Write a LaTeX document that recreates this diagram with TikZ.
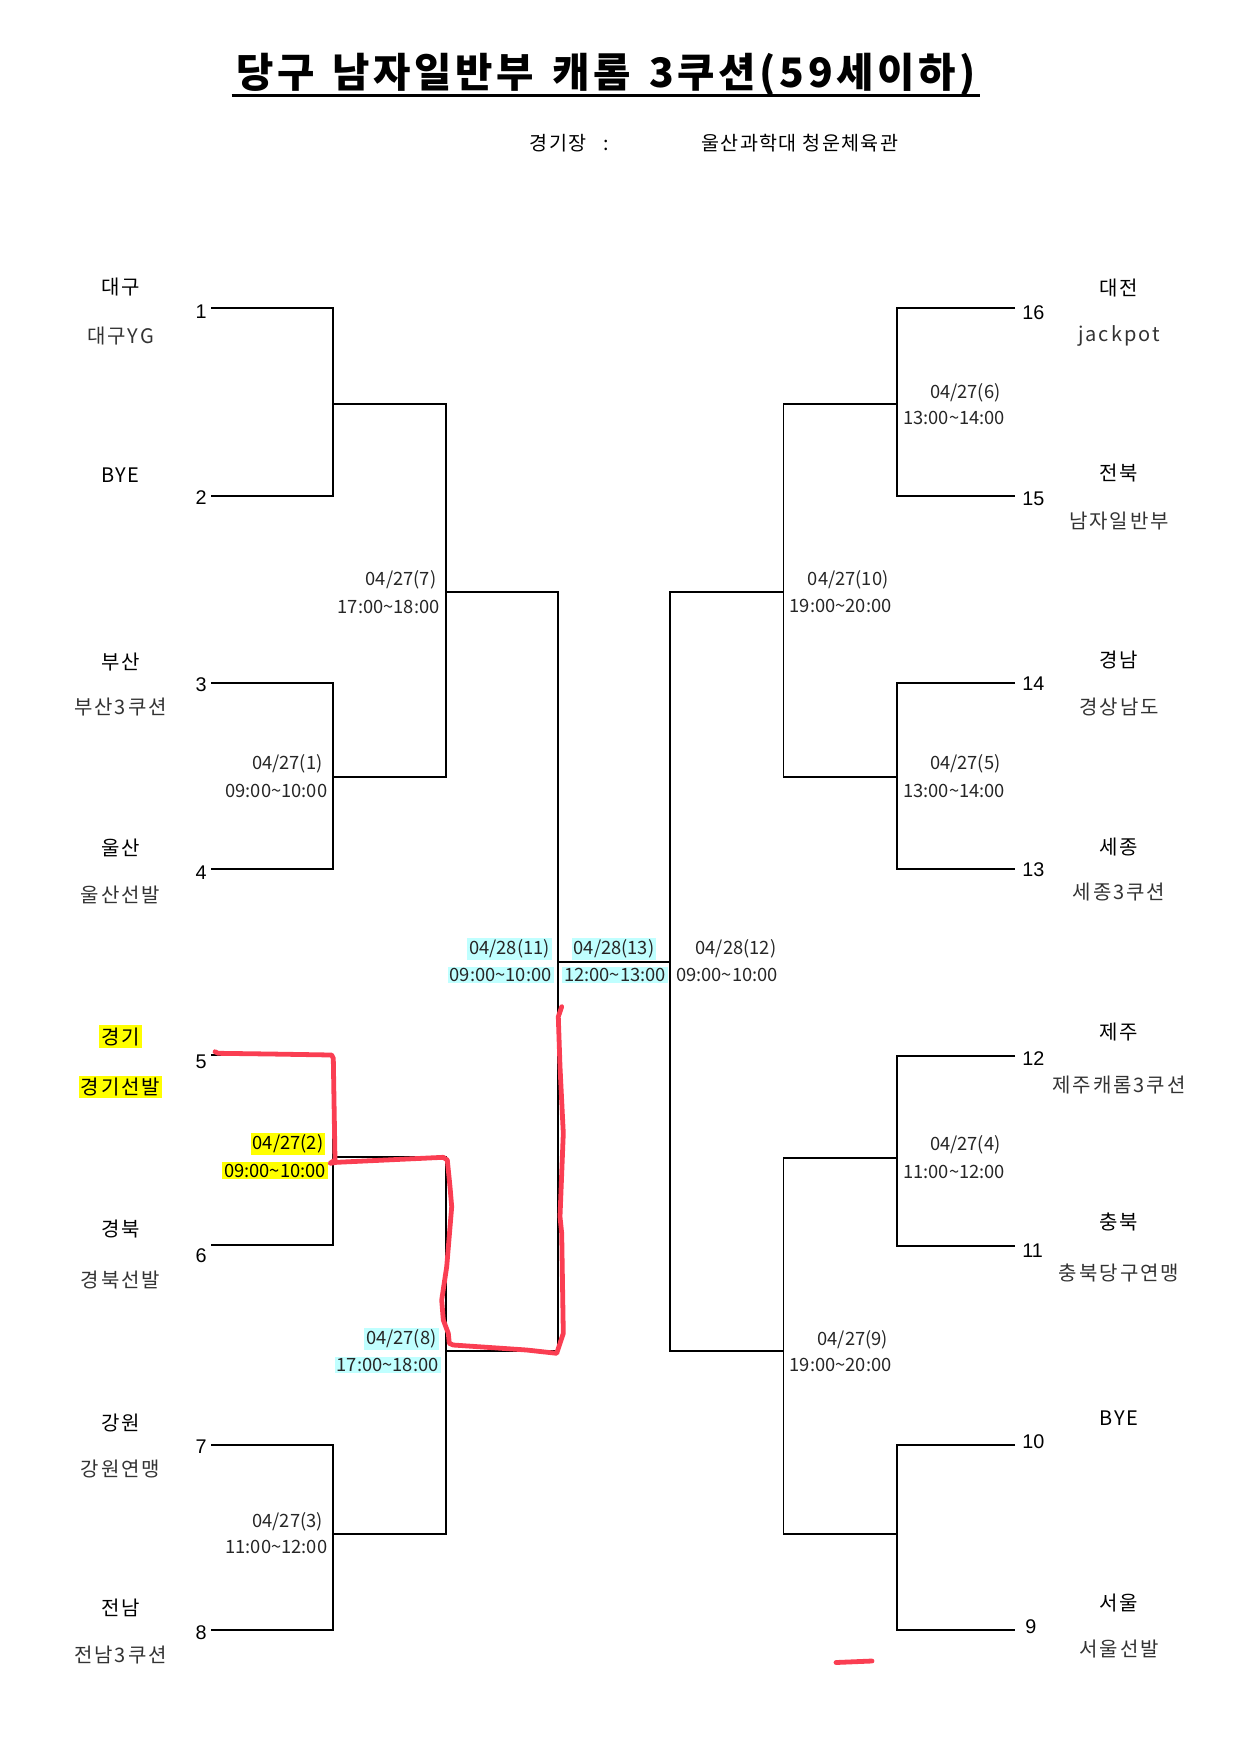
\documentclass[tikz,border=0pt]{standalone}
\usepackage{fontspec}
\setmainfont{Noto Sans CJK KR}
\newfontfamily\numfont{Liberation Sans}
\definecolor{hlyellow}{RGB}{255,255,0}
\definecolor{hlcyan}{RGB}{192,255,255}
\definecolor{markred}{RGB}{250,62,82}

\begin{document}
\begin{tikzpicture}[x=0.48pt, y=-0.48pt,
		team node/.style={font=\fontsize{9.6}{11}\selectfont\addfontfeature{LetterSpace=8}, inner sep=1pt},
		club node/.style={font=\fontsize{9.6}{11}\selectfont\addfontfeature{LetterSpace=10}, text=black!80, inner sep=1pt},
		seed node/.style={font=\numfont\fontsize{9.5}{11}\selectfont, inner sep=0pt},
		date node/.style={font=\fontsize{8.8}{10}\selectfont, text=black!85, inner xsep=1pt, inner ysep=0.8pt, anchor=east},
		bracket/.style={line width=0.9pt},
		mark line/.style={draw=markred, line width=2.3pt, line cap=round, line join=round}]

		\useasboundingbox (0,0) rectangle (1240,1755);

		% title
		\node[font=\bfseries\fontsize{19.5}{23}\selectfont\addfontfeature{LetterSpace=9}, inner xsep=2pt, inner ysep=0pt] (title) at (606,74.5)
			{당구\hspace{0.45em}남자일반부\hspace{0.45em}캐롬\hspace{0.45em}3쿠션(59세이하)};
		\coordinate (ul) at (0,95.5);
		\draw[line width=1.3pt] (title.west |- ul) -- (title.east |- ul);
		\node[font=\fontsize{9.4}{11}\selectfont\addfontfeature{LetterSpace=8}, anchor=west, inner sep=0pt] (place) at (529,143) {경기장\hspace{0.85em}:};
		\node[font=\fontsize{9.4}{11}\selectfont\addfontfeature{LetterSpace=7}, anchor=west, inner sep=0pt] (hall) at (701,143) {울산과학대 청운체육관};

		% teams, left
		\node[team node] (t1) at (120.5,286.7) {대구};
		\node[club node] (c1) at (120.5,335.7) {대구YG};
		\node[team node] (t2) at (120.5,475) {BYE};
		\node[team node] (t3) at (120.5,661.7) {부산};
		\node[club node] (c3) at (120.5,707.3) {부산3쿠션};
		\node[team node] (t4) at (120.5,848.3) {울산};
		\node[club node] (c4) at (120.5,895) {울산선발};
		\node[team node] [fill=hlyellow] (t5) at (120.5,1036.5) {경기};
		\node[club node] [fill=hlyellow, text=black] (c5) at (120.5,1087) {경기선발};
		\node[team node] (t6) at (120.5,1229) {경북};
		\node[club node] (c6) at (120.5,1280) {경북선발};
		\node[team node] (t7) at (120.5,1422.7) {강원};
		\node[club node] (c7) at (120.5,1469) {강원연맹};
		\node[team node] (t8) at (120.5,1608) {전남};
		\node[club node] (c8) at (120.5,1655) {전남3쿠션};

		% teams, right
		\node[team node] (t16) at (1119,288.3) {대전};
		\node[club node] (c16) at (1119,336) {jackpot};
		\node[team node] (t15) at (1119,473.3) {전북};
		\node[club node] (c15) at (1119,520.7) {남자일반부};
		\node[team node] (t14) at (1119,660) {경남};
		\node[club node] (c14) at (1119,706.7) {경상남도};
		\node[team node] (t13) at (1119,846.7) {세종};
		\node[club node] (c13) at (1119,891.7) {세종3쿠션};
		\node[team node] (t12) at (1119,1031.7) {제주};
		\node[club node] (c12) at (1119,1085) {제주캐롬3쿠션};
		\node[team node] (t11) at (1119,1221.7) {충북};
		\node[club node] (c11) at (1119,1273.3) {충북당구연맹};
		\node[team node] (t10) at (1119,1418.3) {BYE};
		\node[team node] (t9) at (1119,1603.3) {서울};
		\node[club node] (c9) at (1119,1649.3) {서울선발};

		% seed numbers
		\node[seed node, anchor=east] (n1) at (207,311.7) {1};
		\node[seed node, anchor=east] (n2) at (207,498) {2};
		\node[seed node, anchor=east] (n3) at (207,685) {3};
		\node[seed node, anchor=east] (n4) at (207,873) {4};
		\node[seed node, anchor=east] (n5) at (207,1061.7) {5};
		\node[seed node, anchor=east] (n6) at (207,1256) {6};
		\node[seed node, anchor=east] (n7) at (207,1446.7) {7};
		\node[seed node, anchor=east] (n8) at (207,1633) {8};
		\node[seed node, anchor=west] (n16) at (1022,312.3) {16};
		\node[seed node, anchor=west] (n15) at (1022,498.3) {15};
		\node[seed node, anchor=west] (n14) at (1022,684) {14};
		\node[seed node, anchor=west] (n13) at (1022,869.3) {13};
		\node[seed node, anchor=west] (n12) at (1022,1058.3) {12};
		\node[seed node, anchor=west] (n11) at (1022,1250.7) {11};
		\node[seed node, anchor=west] (n10) at (1022,1441.7) {10};
		\node[seed node, anchor=west] (n9) at (1025,1626.7) {9};

		% line ends and match points
		\coordinate (p1) at (211,307.7);
		\coordinate (p2) at (211,495.7);
		\coordinate (p3) at (211,683.3);
		\coordinate (p4) at (211,869.3);
		\coordinate (p5) at (211,1055);
		\coordinate (p6) at (211,1245);
		\coordinate (p7) at (211,1445);
		\coordinate (p8) at (211,1630);
		\coordinate (p16) at (1015,307.7);
		\coordinate (p15) at (1015,495.7);
		\coordinate (p14) at (1015,683.3);
		\coordinate (p13) at (1015,869.3);
		\coordinate (p12) at (1015,1056);
		\coordinate (p11) at (1015,1245.7);
		\coordinate (p10) at (1015,1445);
		\coordinate (p9) at (1015,1630);

		\coordinate (mA) at (332.7,404.3);
		\coordinate (m1) at (332.7,776.7);
		\coordinate (m2) at (332.7,1157.3);
		\coordinate (m3) at (332.7,1534);
		\coordinate (m7) at (445.7,592.3);
		\coordinate (m8) at (445.7,1351);
		\coordinate (m11) at (557.7,961.7);
		\coordinate (m12) at (670,961.7);
		\coordinate (m10) at (783.5,592.3);
		\coordinate (m9) at (783.5,1351);
		\coordinate (m6) at (897,404.3);
		\coordinate (m5) at (897,776.7);
		\coordinate (m4) at (897,1158.3);
		\coordinate (mB) at (897,1534);

		% brackets
		\draw[bracket] (p1) -| (mA) |- (p2);
		\draw[bracket] (p3) -| (m1) |- (p4);
		\draw[bracket] (p5) -| (m2) |- (p6);
		\draw[bracket] (p7) -| (m3) |- (p8);
		\draw[bracket] (mA) -| (m7) |- (m1);
		\draw[bracket] (m2) -| (m8) |- (m3);
		\draw[bracket] (m7) -| (m11) |- (m8);
		\draw[bracket] (m11) -- (m12);
		\draw[bracket] (m10) -| (m12) |- (m9);
		\draw[bracket] (m6) -| (m10) |- (m5);
		\draw[bracket] (m4) -| (m9) |- (mB);
		\draw[bracket] (p16) -| (m6) |- (p15);
		\draw[bracket] (p14) -| (m5) |- (p13);
		\draw[bracket] (p12) -| (m4) |- (p11);
		\draw[bracket] (p10) -| (mB) |- (p9);

		% match dates
		\node[date node] (d1) at (325,764) {04/27(1)};
		\node[date node] (h1) at (329.7,790.7) {09:00\textasciitilde10:00};
		\node[date node] [fill=hlyellow, text=black] (d2) at (325.7,1144) {04/27(2)};
		\node[date node] [fill=hlyellow, text=black] (h2) at (328.3,1170.7) {09:00\textasciitilde10:00};
		\node[date node] (d3) at (325.3,1521.7) {04/27(3)};
		\node[date node] (h3) at (329.7,1546.7) {11:00\textasciitilde12:00};
		\node[date node] (d7) at (438.7,580) {04/27(7)};
		\node[date node] (h7) at (442,606.7) {17:00\textasciitilde18:00};
		\node[date node] [fill=hlcyan] (d8) at (439,1339) {04/27(8)};
		\node[date node] [fill=hlcyan] (h8) at (441,1365) {17:00\textasciitilde18:00};
		\node[date node] [fill=hlcyan] (d11) at (552.3,949) {04/28(11)};
		\node[date node] [fill=hlcyan] (h11) at (554,975) {09:00\textasciitilde10:00};
		\node[date node] [fill=hlcyan, anchor=center] (d13) at (614,949) {04/28(13)};
		\node[date node] [fill=hlcyan, anchor=center] (h13) at (615,975) {12:00\textasciitilde13:00};
		\node[date node] (d12) at (778.7,949) {04/28(12)};
		\node[date node] (h12) at (780.3,975) {09:00\textasciitilde10:00};
		\node[date node] (d6) at (1003,392.7) {04/27(6)};
		\node[date node] (h6) at (1007.5,418.3) {13:00\textasciitilde14:00};
		\node[date node] (d5) at (1003,764) {04/27(5)};
		\node[date node] (h5) at (1007.5,790.7) {13:00\textasciitilde14:00};
		\node[date node] (d4) at (1003,1145) {04/27(4)};
		\node[date node] (h4) at (1007.5,1171.7) {11:00\textasciitilde12:00};
		\node[date node] (d10) at (891,580) {04/27(10)};
		\node[date node] (h10) at (894,606) {19:00\textasciitilde20:00};
		\node[date node] (d9) at (890.5,1340) {04/27(9)};
		\node[date node] (h9) at (894,1365) {19:00\textasciitilde20:00};

		% hand marks
		\draw[mark line] (215,1051.7) -- (218.3,1053.3) -- (270,1054) -- (331.7,1055) -- (333.3,1058.3)
			-- (335,1160) -- (330,1163.3) -- (336.7,1162.3) -- (443.3,1157.3) -- (447.3,1160)
			-- (450,1186.7) -- (451.7,1206.7) -- (446.7,1266.7) -- (441.7,1300) -- (443.3,1320)
			-- (448.3,1333.3) -- (449.3,1343.3) -- (453.3,1345) -- (526.7,1350) -- (556.7,1353.3)
			-- (563.3,1333.3) -- (561.7,1233.3) -- (560,1216.7) -- (563.3,1133.3) -- (560,1066.7)
			-- (558.3,1016.7) -- (561.7,1006.7);
		\draw[mark line] (836,1662.5) -- (872,1661);
\end{tikzpicture}
\end{document}
